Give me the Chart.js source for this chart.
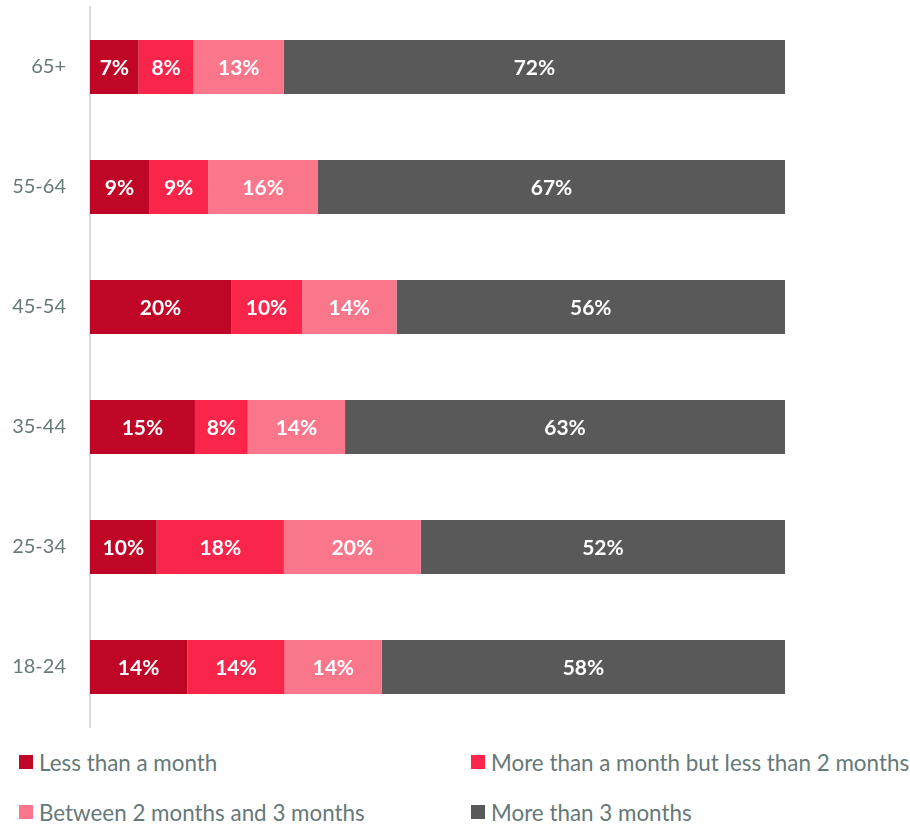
<!DOCTYPE html>
<html>
<head>
<meta charset="utf-8">
<script src="https://cdn.jsdelivr.net/npm/chart.js@4"></script>
<style>
  html, body { margin: 0; padding: 0; background: #fff; }
  body { width: 910px; height: 825px; position: relative; overflow: hidden; font-family: Lato, 'Open Sans', sans-serif; }
  #chart { position: absolute; left: 0; top: 0; }
  #legend { position: absolute; left: 19px; top: 750px; width: 891px; display: grid; grid-template-columns: 452px 440px; row-gap: 26px; }
  .lg-item { display: flex; align-items: center; font-size: 22.4px; color: #667878; white-space: nowrap; height: 24px; }
  .lg-box { width: 14px; height: 14px; margin-right: 6px; flex: none; }
</style>
</head>
<body>
<canvas id="chart" width="910" height="735"></canvas>
<div id="legend"></div>
<script>
// ── DATA ──────────────────────────────────────────────────────────────────────
var ageGroups = ['65+', '55-64', '45-54', '35-44', '25-34', '18-24'];
var seriesNames = ['Less than a month', 'More than a month but less than 2 months', 'Between 2 months and 3 months', 'More than 3 months'];
var seriesColors = ['#C00627', '#F9254A', '#FA778B', '#595959'];
var lessThanMonth = [7.0, 8.5, 20.3, 15.1, 9.6, 14.0];
var oneToTwoMonths = [7.9, 8.5, 10.2, 7.6, 18.3, 14.0];
var twoToThreeMonths = [13.0, 15.8, 13.6, 14.0, 19.7, 14.0];
var moreThanThree = [72.1, 67.2, 55.9, 63.3, 52.4, 58.0];

var seriesValues = [lessThanMonth, oneToTwoMonths, twoToThreeMonths, moreThanThree];

// ── in-bar percentage labels ──
var barLabels = {
  id: 'barLabels',
  afterDatasetsDraw: function(chart) {
    var ctx = chart.ctx;
    ctx.save();
    ctx.fillStyle = '#fff';
    ctx.font = 'bold 21px Lato, sans-serif';
    ctx.textAlign = 'center';
    ctx.textBaseline = 'middle';
    chart.data.datasets.forEach(function(ds, di) {
      var meta = chart.getDatasetMeta(di);
      meta.data.forEach(function(bar, i) {
        var cx = (bar.x + bar.base) / 2;
        ctx.fillText(Math.round(ds.data[i]) + '%', cx, bar.y + 1);
      });
    });
    ctx.restore();
  }
};

var canvas = document.getElementById('chart');
new Chart(canvas, {
  type: 'bar',
  data: {
    labels: ageGroups,
    datasets: seriesNames.map(function(name, k) {
      return {
        label: name,
        data: seriesValues[k],
        backgroundColor: seriesColors[k],
        borderWidth: 0,
        barPercentage: 0.45,
        categoryPercentage: 1
      };
    })
  },
  options: {
    indexAxis: 'y',
    responsive: false,
    animation: false,
    layout: { padding: { top: 7, bottom: 8, left: 0, right: 125 } },
    plugins: {
      legend: { display: false },
      tooltip: { enabled: false }
    },
    scales: {
      x: {
        stacked: true,
        min: 0,
        max: 100,
        display: false
      },
      y: {
        stacked: true,
        grid: { display: false, drawTicks: false },
        border: { display: true, color: '#D9D9D9', width: 2 },
        ticks: {
          color: '#667878',
          padding: 24,
          font: { family: 'Lato', size: 20 }
        },
        afterFit: function(scale) {
          scale.width = 90;
          // tick padding is horizontal only here
          scale.paddingTop = 0;
          scale.paddingBottom = 0;
        }
      }
    }
  },
  plugins: [barLabels]
});

// ── HTML legend in two columns ──
var legendEl = document.getElementById('legend');
seriesNames.forEach(function(name, k) {
  var item = document.createElement('div');
  item.className = 'lg-item';
  item.innerHTML = '<span class="lg-box" style="background:' + seriesColors[k] + '"></span>' + name;
  legendEl.appendChild(item);
});
</script>
</body>
</html>
